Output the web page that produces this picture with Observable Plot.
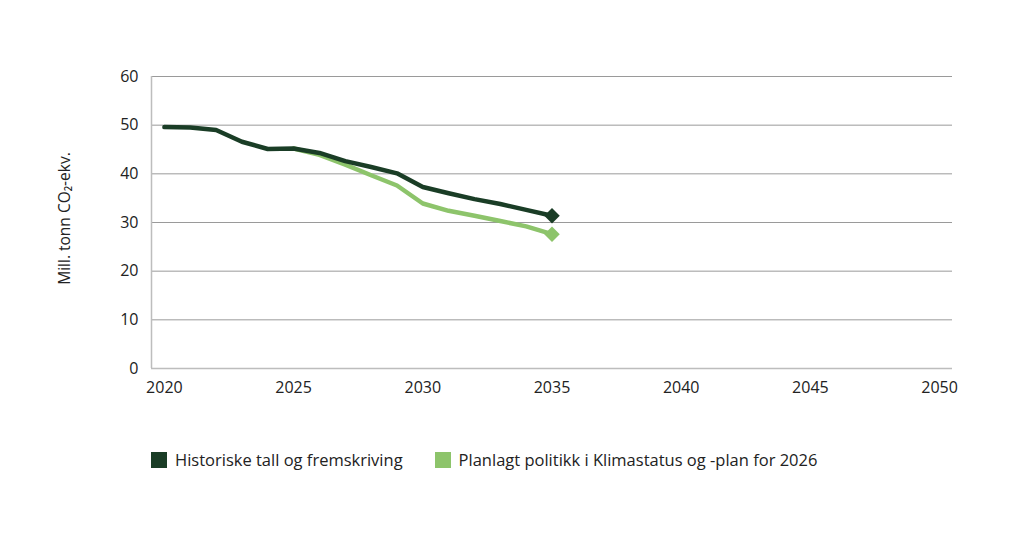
<!DOCTYPE html>
<html>
<head>
<meta charset="utf-8">
<script src="https://cdn.jsdelivr.net/npm/d3@7"></script>
<script src="https://cdn.jsdelivr.net/npm/@observablehq/plot@0.6"></script>
<style>
body { margin: 0; background: #fff; font-family: "Open Sans", sans-serif; }
#legend { display: flex; position: relative; margin-left: 151px; margin-top: 18px; font-size: 16.5px; color: #222; }
.item { display: flex; align-items: center; margin-right: 32px; }
.sw { width: 16px; height: 16px; margin-right: 8px; }
</style>
</head>
<body>
<div id="chart"></div>
<div id="legend"></div>
<script>
const seriesNames = ["Historiske tall og fremskriving", "Planlagt politikk i Klimastatus og -plan for 2026"];
const colors = ["#1a3d26", "#8dc46b"];
const yearsHist = [2020,2021,2022,2023,2024,2025,2026,2027,2028,2029,2030,2031,2032,2033,2034,2035];
const valuesHist = [49.6,49.5,49.0,46.6,45.1,45.2,44.3,42.6,41.4,40.1,37.3,36.0,34.8,33.8,32.6,31.4];
const yearsPlan = [2025,2026,2027,2028,2029,2030,2031,2032,2033,2034,2035];
const valuesPlan = [45.2,43.9,41.9,39.7,37.6,33.9,32.4,31.4,30.3,29.2,27.6];
const xTicks = [2020,2025,2030,2035,2040,2045,2050];
const yTicks = [0,10,20,30,40,50,60];

const hist = yearsHist.map((y,i) => ({year: y, value: valuesHist[i]}));
const plan = yearsPlan.map((y,i) => ({year: y, value: valuesPlan[i]}));

const chart = Plot.plot({
  width: 1034,
  height: 430,
  marginLeft: 151,
  marginRight: 82,
  marginTop: 76,
  marginBottom: 62,
  style: {fontFamily: "Open Sans, sans-serif", fontSize: "16px", color: "#333"},
  x: {domain: [2019.5, 2050.5], label: null},
  y: {domain: [0, 60], label: null},
  marks: [
    Plot.ruleY(yTicks.filter(d => d > 0), {stroke: "#9a9a9a", strokeWidth: 1}),
    Plot.ruleY([0], {stroke: "#bdbdbd", strokeWidth: 1.5}),
    Plot.ruleX([2019.5], {stroke: "#bdbdbd", strokeWidth: 1.5}),
    Plot.axisX({ticks: xTicks, tickFormat: d => String(d), tickSize: 0, tickPadding: 13, fontSize: 16, fill: "#222", label: null}),
    Plot.axisY({ticks: yTicks, tickSize: 0, tickPadding: 13, fontSize: 16, fill: "#222", label: null}),
    Plot.line(plan, {x: "year", y: "value", stroke: colors[1], strokeWidth: 4.5}),
    Plot.line(hist, {x: "year", y: "value", stroke: colors[0], strokeWidth: 4.5}),
    Plot.dot(plan.slice(-1), {x: "year", y: "value", symbol: "diamond2", r: 7, fill: colors[1], stroke: "none"}),
    Plot.dot(hist.slice(-1), {x: "year", y: "value", symbol: "diamond2", r: 7, fill: colors[0], stroke: "none"}),
    Plot.text(["Mill. tonn CO₂-ekv."], {frameAnchor: "left", textAnchor: "middle", dx: -86, dy: -4, rotate: -90, fontSize: 15.5, fill: "#222"})
  ]
});
document.getElementById("chart").appendChild(chart);

const legend = document.getElementById("legend");
seriesNames.forEach((n, i) => {
  const it = document.createElement("div");
  it.className = "item";
  it.innerHTML = `<div class="sw" style="background:${colors[i]}"></div><span>${n}</span>`;
  legend.appendChild(it);
});
</script>
</body>
</html>
